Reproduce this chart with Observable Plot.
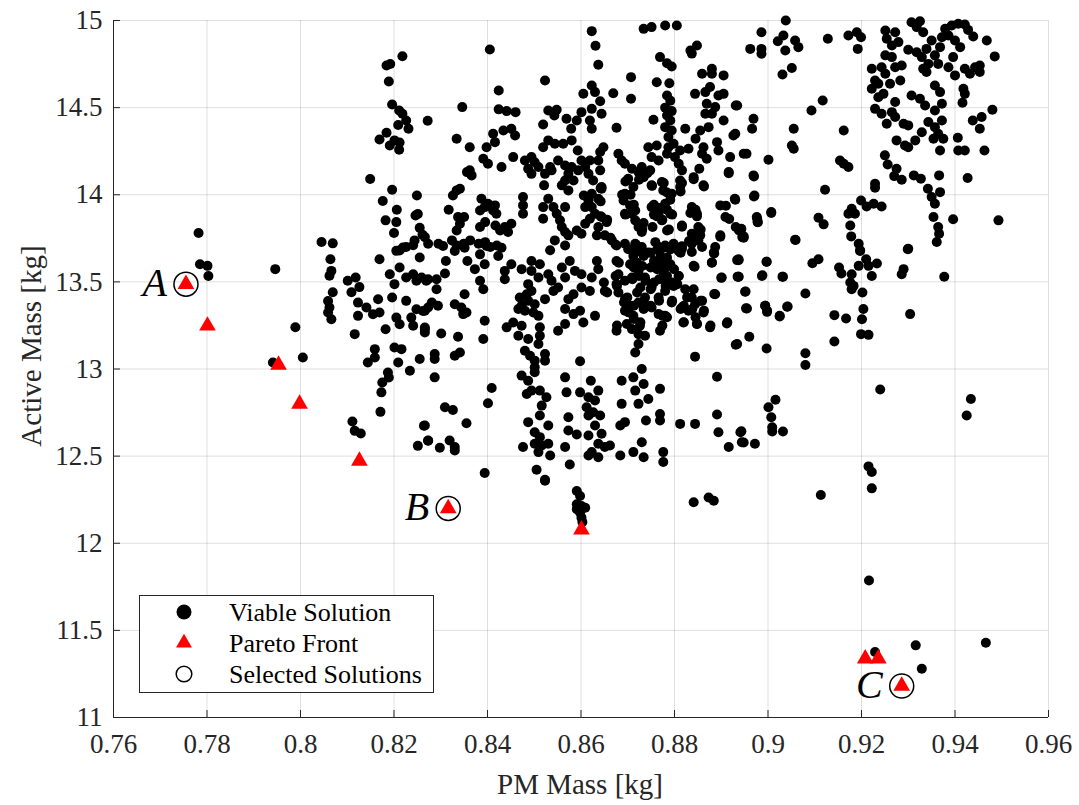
<!DOCTYPE html>
<html><head><meta charset="utf-8">
<script src="https://cdn.jsdelivr.net/npm/d3@7"></script>
<script src="https://cdn.jsdelivr.net/npm/@observablehq/plot@0.6"></script>
<style>html,body{margin:0;padding:0;background:#fff}#chart{position:relative;width:1079px;height:805px}</style>
</head><body><div id="chart"></div>
<script>
const xTicks = [0.76,0.78,0.80,0.82,0.84,0.86,0.88,0.90,0.92,0.94,0.96];
const yTicks = [11,11.5,12,12.5,13,13.5,14,14.5,15];
const xTitle = "PM Mass [kg]";
const yTitle = "Active Mass [kg]";
const legendLabels = ["Viable Solution","Pareto Front","Selected Solutions"];

// Viable solutions [PM mass, active mass]
const viable = [
[0.8218,14.795],[0.8184,14.742],[0.8192,14.75],[0.8189,14.65],[0.8196,14.518],[0.8211,14.484],[0.8218,14.465],[0.8272,14.425],[0.8226,14.426],[0.8231,14.379],[0.8209,14.40],[0.8184,14.356],[0.8169,14.317],[0.8191,14.283],[0.8211,14.258],[0.8201,14.312],[0.8212,14.30],[0.8149,14.09],[0.8196,14.029],[0.8249,13.996],[0.8176,13.964],[0.8206,13.914],[0.8246,13.881],[0.8251,13.89],[0.8182,13.853],[0.8205,13.843],[0.82,13.78],[0.8255,13.81],[0.8261,13.77],[0.8244,13.738],[0.8241,13.71],[0.7782,13.78],[0.8045,13.729],[0.8069,13.721],[0.8226,13.70],[0.8212,13.68],
[0.7785,13.601],[0.7801,13.592],[0.7803,13.534],[0.7946,13.573],[0.7989,13.24],[0.7941,13.037],[0.8005,13.066],[0.8111,12.699],[0.8116,12.645],[0.8129,12.63],[0.8264,12.674],[0.8273,12.588],[0.8251,12.559],[0.8171,12.754],[0.8175,12.923],[0.8173,12.866],[0.8187,12.98],[0.8189,12.951],[0.8144,13.037],[0.8159,13.066],[0.8159,13.114],[0.8116,13.2],[0.8182,13.228],[0.8201,13.123],[0.8216,13.114],[0.8209,13.037],[0.8234,12.99],[0.8255,13.057],[0.8064,13.63],[0.8066,13.563],[0.8062,13.535],[0.8169,13.63],[0.8101,13.506],[0.8118,13.525],[0.8109,13.44],[0.8126,13.47],[0.8069,13.44],[0.8059,13.39],[0.8062,13.353],[0.8059,13.324],[0.8066,13.286],[0.8123,13.381],[0.8123,13.305],[0.8141,13.353],[0.8155,13.314],[0.8169,13.324],[0.8166,13.40],[0.8191,13.544],[0.8201,13.487],[0.8212,13.582],[0.8226,13.525],[0.8241,13.544],[0.8248,13.506],[0.8196,13.41],[0.8205,13.295],[0.8212,13.257],[0.8237,13.295],[0.8241,13.248],[0.8226,13.391],[0.8248,13.343],[0.8262,13.333],[0.8273,13.353],[0.8259,13.525],[0.8269,13.506],[0.8266,13.238],[0.8266,13.21],[0.8205,13.678],[0.8219,13.697],[0.8255,13.64],
[0.8623,14.939],[0.8631,14.855],[0.8637,14.746],[0.8405,14.834],[0.8734,14.952],[0.8751,14.962],[0.8780,14.971],[0.8805,14.971],[0.8769,14.79],[0.8784,14.755],[0.8794,14.736],[0.8834,14.828],[0.8848,14.857],[0.8837,14.81],[0.8707,14.675],[0.8707,14.551],[0.8762,14.646],[0.8789,14.64],[0.8669,14.583],[0.8623,14.627],[0.8605,14.58],[0.863,14.589],[0.8641,14.537],[0.8644,14.465],[0.8523,14.656],[0.8424,14.598],[0.8346,14.503],[0.8424,14.49],[0.8441,14.48],[0.846,14.474],[0.8530,14.484],[0.8548,14.488],[0.8543,14.455],[0.8601,14.474],[0.8623,14.493],[0.8619,14.426],[0.8623,14.379],[0.8569,14.436],[0.8579,14.379],[0.8591,14.426],[0.8519,14.403],[0.8676,14.384],[0.8755,14.43],
[0.8784,14.57],[0.8791,14.54],[0.878,14.50],[0.8794,14.48],[0.8784,14.455],[0.8791,14.426],[0.878,14.388],[0.8794,14.369],[0.8787,14.331],[0.8798,14.293],[0.8787,14.273],
[0.8823,14.379],[0.8855,14.369],[0.8845,14.321],
[0.8844,14.579],[0.8866,14.589],[0.8876,14.618],[0.8894,14.570],[0.8905,14.579],[0.8869,14.522],[0.8887,14.503],[0.8880,14.465],[0.8905,14.426],[0.8866,14.465],[0.8859,14.694],[0.8880,14.723],[0.8880,14.694],[0.8905,14.685],[0.8931,14.512],
[0.8873,14.388],[0.8862,14.273],[0.8891,14.302],[0.8894,14.254],[0.8919,14.216],[0.8926,14.34],[0.8948,14.235],[0.8916,14.13],[0.8929,13.977],
[0.8869,14.207],[0.8859,14.235],[0.8853,14.149],[0.8841,14.101],[0.8862,14.054],[0.883,14.264],
[0.8812,14.254],[0.8809,14.178],[0.8801,14.216],[0.8784,14.235],[0.8766,14.197],[0.8751,14.216],[0.8762,14.283],[0.8744,14.273],[0.873,14.159],[0.8748,14.14],[0.8723,14.13],[0.8709,14.149],[0.8694,14.178],[0.868,14.235],[0.8687,14.197],[0.8701,14.092],[0.8694,14.006],[0.8712,14.044],[0.8734,14.101],[0.8751,14.054],[0.8773,14.073],[0.8776,14.025],[0.8794,14.006],[0.8812,14.082],[0.8812,14.044],[0.8816,14.14],
[0.8751,13.929],[0.8766,13.891],[0.878,13.948],[0.8791,13.891],[0.8773,13.853],[0.8784,13.795],[0.876,13.882],[0.8753,13.815],
[0.8837,13.929],[0.8848,13.891],[0.8851,13.815],[0.8837,13.776],[0.8855,13.767],[0.8898,13.939],[0.8909,13.872],[0.8931,13.815],[0.8816,13.824],[0.8938,13.795],[0.8945,13.757],[0.8898,13.767],
[0.8691,13.967],[0.8705,13.939],[0.8716,13.91],[0.8716,13.853],[0.8723,13.815],[0.873,13.786],[0.8709,13.891],[0.8694,13.891],
[0.848,14.197],[0.8494,14.216],[0.8501,14.187],[0.8487,14.149],[0.8509,14.159],[0.8494,14.12],
[0.8519,14.273],[0.8530,14.312],[0.8544,14.293],[0.8562,14.293],[0.8580,14.312],[0.8593,14.254],[0.8601,14.197],[0.8609,14.159],[0.8619,14.197],[0.8616,14.12],[0.8626,14.082],[0.8637,14.197],[0.8641,14.14],[0.8644,14.044],[0.8648,14.273],[0.8641,14.245],
[0.8551,14.197],[0.8566,14.168],[0.8580,14.159],[0.8594,14.14],[0.8573,14.12],[0.8584,14.082],[0.8566,14.082],[0.8573,14.025],[0.8559,14.054],[0.8537,14.14],[0.8523,14.12],[0.8534,14.159],[0.8521,14.054],[0.843,14.159],[0.8455,14.216],
[0.8398,14.273],[0.8416,14.302],[0.8391,14.207],[0.8401,14.178],[0.8362,14.273],[0.8334,14.321],[0.8412,14.35],[0.8434,14.369],[0.8451,14.379],[0.8459,14.34],
[0.8362,14.14],[0.8366,14.111],[0.8356,14.13],
[0.8334,14.025],[0.8341,14.034],[0.8326,13.996],[0.8317,13.914],[0.8337,13.872],[0.835,13.872],[0.8341,13.834],[0.8334,13.795],
[0.8387,13.977],[0.8401,13.948],[0.8394,13.929],[0.8416,13.939],[0.8412,13.91],[0.8419,13.891],[0.8384,13.91],
[0.8395,13.843],[0.8417,13.824],[0.8427,13.795],[0.8437,13.815],[0.8451,13.834],[0.8444,13.786],[0.8384,13.815],
[0.8476,13.987],[0.8476,13.939],[0.8476,13.891],
[0.8519,13.929],[0.8530,13.977],[0.8541,13.929],[0.8548,13.891],[0.8566,13.929],[0.8519,13.862],[0.8555,13.853],[0.8559,13.815],[0.8566,13.786],[0.8573,13.767],
[0.8591,13.795],[0.8601,13.776],[0.8609,13.834],[0.8619,13.862],[0.8630,13.891],[0.8644,13.872],[0.8655,13.843],[0.8637,13.815],[0.8634,13.767],[0.8651,13.767],[0.8666,13.738],[0.8676,13.709],
[0.8606,13.996],[0.8616,13.967],[0.8623,14.006],[0.8637,13.977],[0.8644,14.034],[0.8609,13.929],[0.8623,13.929],
[0.8295,13.719],[0.8324,13.738],[0.8334,13.709],[0.8349,13.719],[0.8363,13.738],[0.8381,13.719],[0.8395,13.728],[0.8406,13.70],[0.8420,13.709],
[0.8544,13.738],[0.8534,13.681],[0.8566,13.709],
[0.8694,13.719],[0.8716,13.719],[0.873,13.70],[0.8759,13.728],[0.8766,13.70],[0.878,13.709],[0.8798,13.719],[0.8816,13.69],[0.8837,13.719],[0.8837,13.671],[0.8859,13.70],[0.8887,13.70],[0.8851,13.738],
[0.8266,13.757],[0.8273,13.719],
[0.9038,15.0],[0.8986,14.933],[0.8962,14.837],[0.8986,14.837],[0.8986,14.809],[0.9021,14.881],[0.9033,14.914],[0.9037,14.828],[0.9058,14.885],[0.9065,14.847],[0.9051,14.727],[0.9031,14.69],[0.9128,14.895],[0.9172,14.914],[0.919,14.933],[0.9199,14.904],[0.9192,14.837],[0.9117,14.541],[0.9093,14.484],[0.9055,14.379],[0.9051,14.283],[0.9055,14.264],[0.8969,14.436],[0.8966,14.379],[0.8934,14.512],[0.893,14.35],[0.9162,14.369],[0.9154,14.197],[0.9172,14.159],[0.9162,14.178],[0.8954,14.235],[0.9001,14.201],[0.8969,14.111],[0.8971,13.996],[0.9007,13.901],[0.8976,13.872],[0.8978,13.843],[0.8943,13.805],[0.8948,13.761],[0.9122,14.029],[0.9108,13.868],[0.9119,13.83],[0.9058,13.742],[0.9229,14.063],[0.9229,14.04],
[0.925,14.226],[0.9256,14.174],[0.9275,14.149],[0.927,14.107],[0.9286,14.086],[0.9312,14.111],[0.9327,14.092],[0.9366,14.111],[0.9342,14.034],[0.935,13.987],[0.9357,13.948],[0.9368,14.015],[0.9427,14.096],[0.9396,13.859],[0.9493,13.853],
[0.9172,13.891],[0.9179,13.92],[0.9199,13.967],[0.9211,13.933],[0.9226,13.948],[0.9243,13.933],[0.9186,13.891],[0.9176,13.824],[0.9178,13.761],[0.9194,13.719],[0.9197,13.681],
[0.9354,13.872],[0.9364,13.815],[0.9366,13.776],[0.9361,13.729],[0.93,13.69],
[0.9307,14.99],[0.9325,14.996],[0.9318,14.962],[0.9332,14.933],[0.9251,14.943],[0.9272,14.933],[0.9254,14.895],[0.9265,14.857],[0.9279,14.876],[0.93,14.832],[0.9318,14.818],[0.9329,14.79],[0.9339,14.837],[0.935,14.885],[0.9357,14.8],[0.9368,14.847],[0.9379,14.952],[0.9393,14.971],[0.9407,14.981],[0.9421,14.977],[0.9428,14.946],[0.9439,14.908],[0.9468,14.885],[0.9485,14.794],[0.9386,14.914],[0.94,14.885],[0.9411,14.847],[0.9372,14.904],[0.9396,14.79],[0.9386,14.732],[0.9364,14.751],[0.9343,14.751],[0.9332,14.723],[0.9339,14.704],[0.94,14.685],[0.9421,14.723],[0.9432,14.694],[0.9443,14.732],[0.9453,14.742],[0.9453,14.704],[0.9251,14.8],[0.9265,14.79],[0.9243,14.732],[0.9251,14.694],[0.9272,14.732],[0.9286,14.742],[0.9222,14.723],[0.9283,14.656],[0.9229,14.656],[0.9222,14.608],[0.9236,14.637],[0.9261,14.637],[0.9236,14.56],[0.9247,14.579],[0.9272,14.532],[0.9265,14.474],[0.9243,14.465],[0.9254,14.407],[0.9229,14.493],[0.9272,14.446],[0.929,14.407],[0.93,14.398],[0.9307,14.57],[0.9325,14.551],[0.9336,14.512],[0.9357,14.627],[0.9368,14.589],[0.9372,14.522],[0.9357,14.484],[0.9372,14.426],[0.9357,14.388],[0.9343,14.417],[0.9329,14.359],[0.9364,14.35],[0.9375,14.321],[0.9368,14.254],[0.9406,14.327],[0.9407,14.254],[0.9421,14.254],[0.9354,14.321],[0.9315,14.312],[0.9275,14.312],[0.9293,14.283],[0.93,14.273],[0.9418,14.608],[0.9421,14.579],[0.9416,14.528],[0.9438,14.426],[0.9457,14.446],[0.9453,14.379],[0.948,14.488],[0.9463,14.254],
[0.8305,13.706],[0.833,13.677],[0.8351,13.696],[0.8398,13.706],[0.843,13.696],
[0.8311,13.62],[0.8309,13.548],[0.8357,13.62],[0.8384,13.658],[0.8373,13.573],[0.8394,13.601],[0.8384,13.506],[0.8391,13.458],[0.8423,13.649],
[0.8273,13.515],[0.8291,13.515],[0.8291,13.458],[0.8281,13.382],[0.8266,13.334],[0.8294,13.363],
[0.8351,13.429],[0.833,13.372],[0.8344,13.353],[0.8355,13.324],[0.8348,13.315],
[0.8266,13.229],[0.8301,13.204],[0.8337,13.185],[0.8394,13.277],[0.8391,13.172],
[0.8287,13.086],[0.8287,13.057],[0.833,13.076],[0.8341,13.095],
[0.8287,12.952],[0.8409,12.891],[0.8401,12.803],[0.8309,12.78],[0.8326,12.765],[0.8355,12.689],[0.8266,12.676],[0.8273,12.59],
[0.8319,12.59],[0.833,12.552],[0.833,12.532],[0.8298,12.548],[0.8394,12.403],
[0.8437,13.563],[0.8451,13.601],[0.8473,13.573],[0.8494,13.62],[0.8512,13.601],[0.853,13.544],[0.8494,13.563],[0.8509,13.525],[0.8537,13.506],[0.8559,13.582],[0.8576,13.62],[0.8587,13.563],[0.8566,13.525],[0.8551,13.468],[0.8541,13.448],[0.8523,13.401],
[0.8437,13.515],[0.8487,13.487],[0.8494,13.448],[0.8484,13.429],[0.8469,13.41],[0.8473,13.363],[0.8466,13.344],[0.848,13.334],[0.8487,13.391],[0.8501,13.372],[0.8498,13.324],[0.8509,13.305],
[0.8455,13.267],[0.8441,13.239],[0.8473,13.248],[0.8466,13.191],[0.8487,13.172],[0.8512,13.239],[0.8512,13.191],[0.8509,13.143],[0.848,13.105],[0.8491,13.076],[0.8501,13.048],[0.8523,13.086],[0.8523,13.048],[0.8501,13.01],[0.8501,12.981],
[0.8473,12.962],[0.8487,12.933],[0.8484,12.857],[0.8494,12.876],[0.8512,12.876],[0.8526,12.838],[0.8516,12.79],[0.8512,12.733],[0.8487,12.695],[0.853,12.676],[0.8501,12.637],[0.8512,12.609],[0.8501,12.571],[0.8516,12.561],[0.853,12.571],[0.8509,12.523],[0.8476,12.552],[0.8534,12.504],[0.8505,12.422],[0.8523,12.364],
[0.8566,12.952],[0.8569,12.866],[0.8573,12.723],[0.8573,12.647],[0.8591,12.624],[0.8566,12.552],[0.8576,12.452],[0.8598,12.866],[0.8598,13.044],
[0.8621,12.933],[0.8637,12.876],[0.8616,12.838],[0.863,12.819],[0.8612,12.781],[0.8626,12.752],[0.8641,12.733],[0.8616,12.733],[0.863,12.676],[0.8644,12.628],[0.8616,12.618],[0.8637,12.571],[0.8651,12.552],[0.8623,12.523],[0.8637,12.494],[0.8616,12.504],[0.8662,12.561],[0.8684,12.504],
[0.8687,12.933],[0.8712,12.952],[0.873,13.0],[0.8734,12.914],[0.8716,12.876],[0.8723,12.80],[0.8744,12.828],[0.8687,12.80],[0.8684,12.676],[0.8694,12.695],[0.8739,12.704],[0.8769,12.886],[0.8769,12.742],[0.8769,12.704],[0.873,12.58],[0.8712,12.523],[0.8734,12.494],[0.8776,12.523],[0.8776,12.466],
[0.8812,12.685],[0.8844,12.685],[0.8891,12.956],[0.8891,12.739],[0.8894,12.637],[0.8916,12.552],[0.8941,12.637],[0.8944,12.58],[0.8844,13.071],[0.8931,13.139],
[0.8601,13.544],[0.8623,13.525],[0.8637,13.573],[0.8634,13.62],[0.8651,13.448],[0.863,13.305],[0.8605,13.267],[0.8598,13.334],[0.8584,13.315],[0.8566,13.258],[0.8551,13.219],[0.8566,13.344],[0.8573,13.401],[0.8584,13.429],[0.8601,13.468],[0.8619,13.448],
[0.8676,13.62],[0.868,13.544],[0.8676,13.487],[0.868,13.439],[0.8694,13.506],[0.8709,13.525],[0.8705,13.601],[0.8712,13.649],[0.8723,13.563],[0.8737,13.525],[0.8751,13.468],[0.8766,13.41],[0.878,13.448],[0.8798,13.477],[0.8809,13.534],[0.878,13.525],[0.8766,13.62],[0.8759,13.582],[0.8791,13.601],[0.8809,13.677],[0.8744,13.668],[0.8723,13.677],[0.8701,13.687],
[0.8694,13.401],[0.8694,13.334],[0.8705,13.363],[0.8712,13.305],[0.8723,13.382],[0.8737,13.41],[0.8751,13.353],[0.8766,13.315],[0.878,13.305],[0.8698,13.258],[0.8709,13.229],[0.8726,13.248],[0.8723,13.2],[0.8737,13.191],[0.8723,13.143],[0.8716,13.095],[0.8676,13.219],[0.8769,13.219],[0.8794,13.382],
[0.8816,13.353],[0.883,13.334],[0.8844,13.372],[0.8859,13.391],[0.8862,13.324],[0.8837,13.41],[0.8823,13.458],[0.8841,13.458],[0.8819,13.267],[0.8848,13.258],[0.8876,13.239],[0.8912,13.261],[0.8887,13.429],[0.8901,13.525],[0.8937,13.529],[0.8937,13.63],[0.8841,13.592],[0.888,13.611],[0.8884,13.668],
[0.8937,13.624],[0.8937,13.529],[0.8952,13.445],[0.8955,13.347],[0.896,13.185],[0.8934,13.143],[0.8997,13.118],
[0.8997,13.616],[0.8987,13.534],[0.9032,13.529],[0.8994,13.363],[0.8998,13.328],[0.9025,13.302],[0.9041,13.357],[0.908,13.433],
[0.9095,13.607],[0.9108,13.63],[0.908,13.09],[0.908,13.023],[0.9142,13.309],[0.9167,13.29],[0.9142,13.158],
[0.9152,13.582],[0.9157,13.548],[0.9179,13.544],[0.9176,13.496],[0.9183,13.477],[0.9179,13.458],[0.9194,13.592],[0.9197,13.677],[0.921,13.63],[0.9215,13.592],[0.9233,13.605],[0.9222,13.534],[0.9202,13.439],[0.9204,13.344],[0.9201,13.286],[0.9199,13.2],[0.9215,13.196],
[0.9299,13.687],[0.929,13.573],[0.9286,13.544],[0.9304,13.315],[0.9377,13.529],
[0.924,12.882],[0.9016,12.824],[0.9001,12.781],[0.9007,12.723],[0.9009,12.666],[0.9009,12.641],[0.9032,12.641],[0.8943,12.643],[0.8948,12.578],[0.8972,12.571],
[0.9434,12.828],[0.9425,12.733],[0.9215,12.441],[0.9222,12.409],
[0.8523,12.359],[0.8591,12.30],[0.8598,12.271],[0.8591,12.224],[0.8601,12.214],[0.8609,12.204],[0.8591,12.195],[0.8598,12.176],[0.8601,12.147],[0.8603,12.122],[0.8841,12.235],[0.8873,12.263],[0.8884,12.244],
[0.9113,12.277],[0.9222,12.315],[0.9216,11.786],[0.9229,11.376],[0.9316,11.414],[0.9329,11.28],[0.9466,11.429],
[0.8749,13.667],[0.8763,13.686],[0.8777,13.696],[0.8791,13.686],[0.877,13.648],[0.8784,13.639],[0.8756,13.62],[0.8774,13.601],[0.8788,13.591],[0.8799,13.572],[0.8763,13.572],[0.8777,13.553],[0.8749,13.582],[0.8767,13.515],[0.8784,13.534],[0.8795,13.496],[0.8756,13.496],[0.8809,13.534],[0.8813,13.667],[0.8731,13.591],[0.8734,13.648],[0.872,13.61],[0.8713,13.582],[0.8724,13.534],[0.8738,13.506],[0.8713,13.667],[0.8816,13.705],[0.8831,13.734],[0.8841,13.762],[0.8856,13.80],[0.8806,13.487],[0.8781,13.477],[0.8749,13.458],
[0.8916,14.124],[0.897,14.105],[0.893,13.971],[0.897,13.99],[0.891,13.937],[0.8917,13.861],[0.8977,13.861],[0.8978,13.842],[0.9007,13.895],[0.9059,13.74],[0.8942,13.80],[0.8948,13.753],[0.8898,13.759],[0.8885,13.663],[0.888,13.61],[0.8934,13.625],[0.8997,13.616],[0.8843,13.587],[0.89,13.523],[0.8935,13.53],[0.8988,13.538],[0.9031,13.53],[0.8885,13.43],[0.8951,13.443],[0.8953,13.348],[0.8994,13.363],[0.8998,13.335],[0.9025,13.306],[0.9042,13.359],
[0.8845,13.914],[0.8834,13.895],[0.8848,13.876],[0.8816,13.816],[0.8852,13.80],
[0.8863,14.048],[0.8841,14.089],[0.8816,14.067],[0.8813,14.019],[0.8777,14.067],[0.8784,14.013],[0.8752,14.051],[0.8791,13.971],[0.8756,13.943],[0.8763,13.876],[0.8774,13.857],[0.8788,13.80],[0.8731,13.80],[0.8734,13.838],[0.8713,13.943],[0.8695,13.886],[0.8688,14.0],[0.8706,14.0],[0.8642,14.038],[0.8642,13.962],[0.8642,13.876],[0.8656,13.857],[0.8663,13.753],[0.8674,13.715],[0.8717,13.715],[0.872,13.705],
[0.8681,13.61],[0.8674,13.534],[0.8677,13.477],[0.8649,13.496],[0.8656,13.439],[0.871,13.515],[0.8727,13.468],[0.872,13.439],[0.8734,13.382],[0.8699,13.411],[0.8692,13.382],[0.8713,13.363],[0.8702,13.325],[0.8713,13.287],[0.8734,13.344],[0.8749,13.363],[0.8767,13.392],[0.8774,13.306],[0.8784,13.297],[0.8795,13.392],[0.8813,13.344],[0.8827,13.411],[0.882,13.363],[0.8838,13.344],[0.8856,13.392],[0.8863,13.335],[0.8845,13.297],[0.882,13.268],[0.8848,13.259],[0.8877,13.249],[0.8913,13.268],[0.8727,13.268],[0.8677,13.249],[0.8774,13.249],
[0.8695,14.076],[0.8724,14.086],[0.8742,14.124],[0.8756,13.886],[0.8767,13.924],[0.8784,13.914],[0.8795,13.886]
];

// Pareto front [PM mass, active mass]
const pareto = [
[0.7755,13.487],[0.7801,13.248],[0.7953,13.024],[0.7998,12.80],[0.8126,12.473],
[0.8316,12.20],[0.8601,12.078],[0.9208,11.338],[0.9236,11.338],[0.9286,11.181]
];

// Selected solutions
const selectedPM = [0.7755, 0.8316, 0.9286];
const selectedActive = [13.487, 12.20, 11.181];
const selectedLabels = ["A", "B", "C"];
const selected = selectedLabels.map((label, i) => ({label, pm: selectedPM[i], active: selectedActive[i]}));

const font = "'Liberation Serif','Times New Roman',serif";
const ink = "#262626";
const fmt = d => String(+d.toFixed(2));

const chart = Plot.plot({
  width: 1079, height: 805,
  marginLeft: 113, marginRight: 31, marginTop: 20, marginBottom: 88,
  style: {fontFamily: font, fontSize: "27px", color: ink, background: "#fff", overflow: "visible"},
  x: {domain: [0.76, 0.96], label: null},
  y: {domain: [11, 15], label: null},
  marks: [
    Plot.gridX(xTicks, {stroke: ink, strokeOpacity: 0.15, strokeWidth: 1}),
    Plot.gridY(yTicks, {stroke: ink, strokeOpacity: 0.15, strokeWidth: 1}),
    Plot.axisX(xTicks, {anchor: "bottom", tickSize: -7, tickPadding: 23, tickFormat: fmt, label: null, stroke: ink, fill: ink}),
    Plot.axisY(yTicks, {anchor: "left", tickSize: -7, tickPadding: 18, tickFormat: fmt, label: null, stroke: ink, fill: ink}),
    Plot.ruleX([0.76], {stroke: ink, strokeWidth: 1}),
    Plot.ruleY([11], {stroke: ink, strokeWidth: 1}),
    Plot.dot(viable, {x: d => d[0], y: d => d[1], r: 5, fill: "#000", stroke: null}),
    Plot.dot(pareto, {x: d => d[0], y: d => d[1], r: 6.2, symbol: "triangle", fill: "#ff0000", stroke: null}),
    Plot.dot(selected, {x: "pm", y: "active", r: 12, fill: "none", stroke: "#000", strokeWidth: 1.5}),
    Plot.text(selected, {x: "pm", y: "active", text: "label", textAnchor: "end", dx: -19, dy: -1, fontSize: 40, fontStyle: "italic", fill: "#000"})
  ]
});

const root = document.getElementById("chart");
root.appendChild(chart);
const svg = d3.select(chart);

// Axis titles
svg.append("text").attr("x", 580).attr("y", 784).attr("text-anchor", "middle")
  .attr("dominant-baseline", "central").attr("fill", ink)
  .style("font-family", font).style("font-size", "29px").text(xTitle);
svg.append("text").attr("transform", "translate(31,346) rotate(-90)").attr("text-anchor", "middle")
  .attr("dominant-baseline", "central").attr("fill", ink)
  .style("font-family", font).style("font-size", "29px").text(yTitle);

// Legend
const lg = svg.append("g");
lg.append("rect").attr("x", 139.5).attr("y", 595.5).attr("width", 294).attr("height", 97)
  .attr("fill", "#fff").attr("stroke", ink).attr("stroke-width", 1);
const rows = [612, 643, 674];
lg.append("circle").attr("cx", 184).attr("cy", rows[0]).attr("r", 7.5).attr("fill", "#000");
lg.append("path").attr("d", d3.symbol(d3.symbolTriangle, 110)()).attr("transform", `translate(184,${rows[1]})`).attr("fill", "#ff0000");
lg.append("circle").attr("cx", 184).attr("cy", rows[2]).attr("r", 7.8).attr("fill", "none").attr("stroke", "#000").attr("stroke-width", 1.5);
legendLabels.forEach((t, i) => {
  lg.append("text").attr("x", 229).attr("y", rows[i]).attr("text-anchor", "start").attr("dominant-baseline", "central")
    .attr("fill", "#000").style("font-family", font).style("font-size", "26px").text(t);
});
</script>
</body></html>
